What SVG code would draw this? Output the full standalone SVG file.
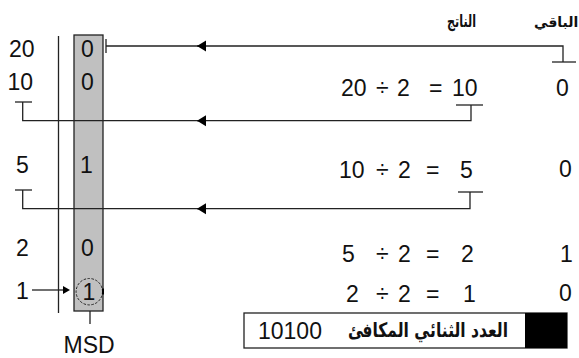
<svg xmlns="http://www.w3.org/2000/svg" width="579" height="358" viewBox="0 0 579 358">
<defs>
<marker id="arrL" markerWidth="9" markerHeight="12" refX="9" refY="6" orient="auto" markerUnits="userSpaceOnUse">
<path d="M9,6 L0,0.5 L0,11.5 Z" fill="#000"/>
</marker>
<style>
.t{font-family:"Liberation Sans",Arial,sans-serif;font-size:23px;fill:#111}
.ar{font-family:"DejaVu Sans","Noto Sans",sans-serif;font-weight:bold;fill:#111}
.ln{stroke:#222;stroke-width:1.3;fill:none}
</style>
</defs>
<rect width="579" height="358" fill="#fff"/>

<g id="column">
<line class="ln" x1="58.5" y1="36" x2="58.5" y2="313"/>
<rect x="74" y="35" width="29" height="276" fill="#c0c0c0" stroke="#222" stroke-width="1.3"/>
</g>

<g id="quotients" class="t">
<text x="9" y="57">20</text>
<text x="7.5" y="90">10</text>
<text x="16" y="173">5</text>
<text x="16" y="256">2</text>
<text x="16" y="299">1</text>
</g>

<g id="bits" class="t">
<text x="81" y="57">0</text>
<text x="81" y="90">0</text>
<text x="80" y="173">1</text>
<text x="81" y="256">0</text>
</g>

<g id="msd">
<circle cx="89.3" cy="291.7" r="13.2" fill="none" stroke="#222" stroke-width="1" stroke-dasharray="2.5 1.5"/>
<text class="t" x="82.5" y="299.5">1</text>
<line x1="103" y1="288.5" x2="103" y2="294.5" stroke="#000" stroke-width="2"/>
<line class="ln" x1="90" y1="311" x2="90" y2="324"/>
<text class="t" x="63.5" y="353">MSD</text>
</g>

<g id="equations" class="t">
<text y="96"><tspan x="341">20</tspan><tspan x="376">÷</tspan><tspan x="397">2</tspan><tspan x="429">=</tspan><tspan x="452">10</tspan></text>
<text y="178"><tspan x="339">10</tspan><tspan x="376">÷</tspan><tspan x="398">2</tspan><tspan x="426">=</tspan><tspan x="460">5</tspan></text>
<text y="262"><tspan x="342">5</tspan><tspan x="376">÷</tspan><tspan x="398">2</tspan><tspan x="426">=</tspan><tspan x="461">2</tspan></text>
<text y="302"><tspan x="346">2</tspan><tspan x="376">÷</tspan><tspan x="398">2</tspan><tspan x="426">=</tspan><tspan x="463">1</tspan></text>
</g>

<g id="remainders" class="t">
<text x="556" y="96">0</text>
<text x="559" y="177">0</text>
<text x="560" y="262">1</text>
<text x="559" y="301">0</text>
</g>

<g id="headers">
<text class="ar" x="447" y="27" font-size="17" textLength="29" lengthAdjust="spacingAndGlyphs">الناتج</text>
<text class="ar" x="534" y="27" font-size="14">الباقي</text>
</g>

<g id="result">
<rect x="244" y="313" width="323" height="35" fill="#fff" stroke="#222" stroke-width="1.3"/>
<rect x="525" y="313" width="42" height="35" fill="#000"/>
<text class="t" x="258" y="339">10100</text>
<text class="ar" x="348" y="337" font-size="20" textLength="160" lengthAdjust="spacingAndGlyphs">العدد الثنائي المكافئ</text>
</g>

<g id="connectors">
<line class="ln" x1="106" y1="39" x2="106" y2="53"/>
<polyline class="ln" points="563,62 563,46 106,46"/>
<line class="ln" x1="552" y1="62" x2="576" y2="62"/>
<line class="ln" x1="206" y1="46" x2="197" y2="46" marker-end="url(#arrL)"/>

<line class="ln" x1="15" y1="102" x2="32" y2="102"/>
<polyline class="ln" points="471,105 471,120.7 22.7,120.7 22.7,102"/>
<line class="ln" x1="456" y1="105" x2="483" y2="105"/>
<line class="ln" x1="206" y1="120.7" x2="197" y2="120.7" marker-end="url(#arrL)"/>

<line class="ln" x1="15" y1="190" x2="32" y2="190"/>
<polyline class="ln" points="470,192 470,208.7 22.7,208.7 22.7,190"/>
<line class="ln" x1="458" y1="192" x2="483" y2="192"/>
<line class="ln" x1="206" y1="208.7" x2="197" y2="208.7" marker-end="url(#arrL)"/>

<line class="ln" x1="32" y1="290" x2="64" y2="290"/>
<path d="M70,290 L63,286 L63,294 Z" fill="#000"/>
</g>
</svg>
